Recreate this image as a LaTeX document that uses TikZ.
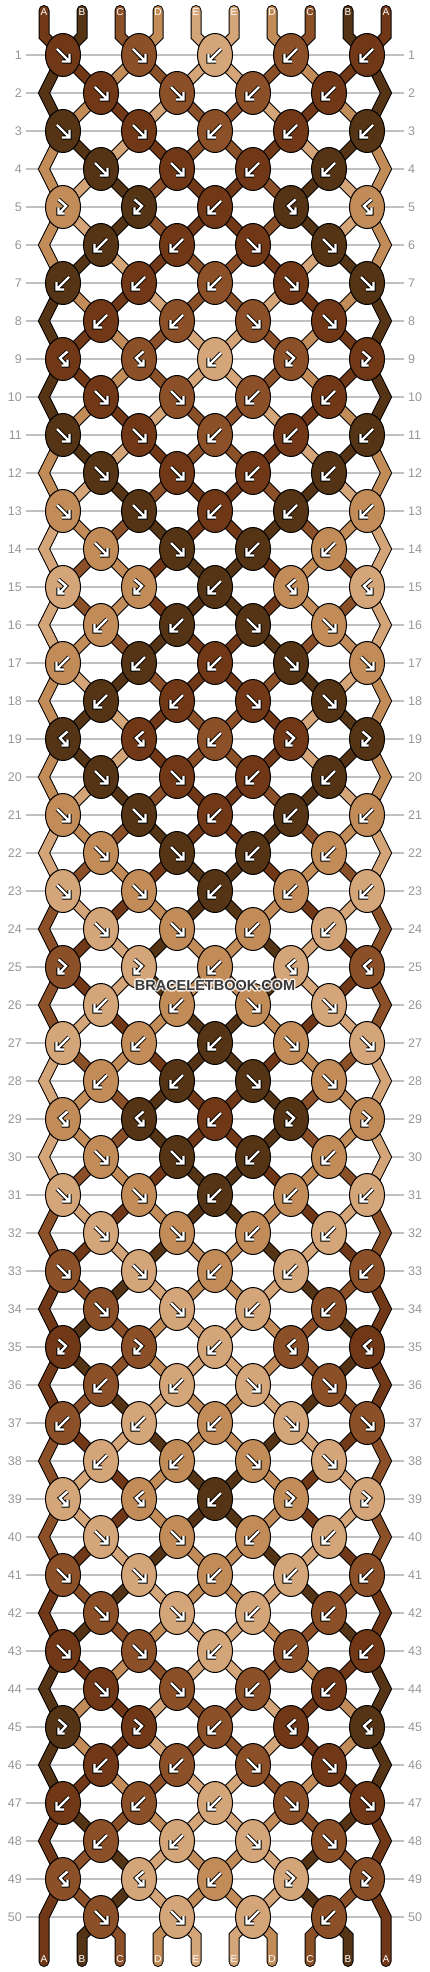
\documentclass[tikz,border=0pt]{standalone}
\usepackage{fontspec}
\setmainfont{Liberation Sans}
\usetikzlibrary{shapes.geometric}

\definecolor{strA}{RGB}{112,56,22}
\definecolor{strB}{RGB}{84,52,20}
\definecolor{strC}{RGB}{139,80,40}
\definecolor{strD}{RGB}{194,140,88}
\definecolor{strE}{RGB}{212,165,120}
\definecolor{rulegray}{RGB}{192,192,192}
\definecolor{numgray}{RGB}{150,150,150}
\definecolor{markgray}{RGB}{55,55,55}

% colour letter held by each string position
\newcommand{\setstr}[2]{\expandafter\xdef\csname st#1\endcsname{#2}}
\newcommand{\getstr}[1]{\csname st#1\endcsname}
\newcommand{\resetstr}{\foreach \p/\lab in {1/A,2/B,3/C,4/D,5/E,6/E,7/D,8/C,9/B,10/A}{\setstr{\p}{\lab}}}

% one string piece: colour letter, path (pass 1 outline, pass 2 fill)
\newcommand{\strand}[2]{%
  \edef\strandcmd{\ifnum\drawmode=1 \noexpand\draw[strandout] #2;\else\noexpand\draw[strandin, draw=str#1] #2;\fi}%
  \strandcmd}

% knot: row, index, left pos, right pos, type (1 f, 2 b, 3 fb, 4 bf), x, y, from left, from right
\newcommand{\knot}[9]{%
  \edef\lstr{\getstr{#3}}\edef\rstr{\getstr{#4}}%
  \ifodd#5 \let\kc\lstr\else\let\kc\rstr\fi
  \ifcase\drawmode\or
    \coordinate (c-#1-#2) at (#6,#7);
    \strand{}{#8 -- (c-#1-#2)}\strand{}{#9 -- (c-#1-#2)}%
  \or
    \strand{\lstr}{#8 -- (c-#1-#2)}\strand{\rstr}{#9 -- (c-#1-#2)}%
  \or
    \node[knot, fill=str\kc] (k-#1-#2) at (c-#1-#2) {};
    \ifcase#5\or\pic at (k-#1-#2.center) {fwd};\or\pic at (k-#1-#2.center) {bwd};%
    \or\pic at (k-#1-#2.center) {fwdbwd};\or\pic at (k-#1-#2.center) {bwdfwd};\fi
  \fi
  \ifnum#5<3 \setstr{#3}{\rstr}\setstr{#4}{\lstr}\fi}

% all 50 rows, once per pass
\newcommand{\runrows}{%
  \resetstr
  \foreach \rw in {1,...,50}{
    \pgfmathtruncatemacro\yy{55+38*(\rw-1)}
    \pgfmathtruncatemacro\rmod{mod(\rw,10)}
    \pgfmathtruncatemacro\rp{\rw-1}
    \pgfmathtruncatemacro\rpp{\rw-2}
    \ifnum\rmod=5 \def\ltype{3}\else\ifnum\rmod=9 \def\ltype{4}\else\ifnum\rmod>5 \def\ltype{2}\else\def\ltype{1}\fi\fi\fi
    \pgfmathtruncatemacro\mtype{\ltype+1-2*mod(\ltype+1,2)}
    \ifodd\rw
      \foreach \kn in {1,...,5}{
        \pgfmathtruncatemacro\xx{63+76*(\kn-1)}
        \pgfmathtruncatemacro\posl{2*\kn-1}
        \pgfmathtruncatemacro\posr{2*\kn}
        \pgfmathtruncatemacro\km{\kn-1}
        \ifnum\kn=3 \def\ty{2}\else\ifnum\kn<3 \let\ty\ltype\else\let\ty\mtype\fi\fi
        \ifnum\rw=1
          \knot{\rw}{\kn}{\posl}{\posr}{\ty}{\xx}{\yy}{(t-\posl) -- (u-\posl)}{(t-\posr) -- (u-\posr)}
        \else
          \ifnum\kn=1 \def\srcl{(c-\rpp-1) -- (e-\rp-1)}\else\def\srcl{(c-\rp-\km)}\fi
          \ifnum\kn=5 \def\srcr{(c-\rpp-5) -- (e-\rp-10)}\else\def\srcr{(c-\rp-\kn)}\fi
          \knot{\rw}{\kn}{\posl}{\posr}{\ty}{\xx}{\yy}{\srcl}{\srcr}
        \fi
      }
    \else
      \coordinate (e-\rw-1) at (44,\yy);
      \coordinate (e-\rw-10) at (386,\yy);
      \foreach \kn in {1,...,4}{
        \pgfmathtruncatemacro\xx{101+76*(\kn-1)}
        \pgfmathtruncatemacro\posl{2*\kn}
        \pgfmathtruncatemacro\posr{2*\kn+1}
        \pgfmathtruncatemacro\kq{\kn+1}
        \ifnum\kn<3 \let\ty\ltype\else\let\ty\mtype\fi
        \knot{\rw}{\kn}{\posl}{\posr}{\ty}{\xx}{\yy}{(c-\rp-\kn)}{(c-\rp-\kq)}
      }
    \fi
  }
  \ifnum\drawmode<3
    \strand{\getstr{1}}{(c-49-1) -- (e-50-1) -- (b-1)}
    \strand{\getstr{10}}{(c-49-5) -- (e-50-10) -- (b-10)}
    \foreach \p in {2,...,9}{
      \pgfmathtruncatemacro\kk{floor(\p/2)}
      \strand{\getstr{\p}}{(c-50-\kk) -- (v-\p) -- (b-\p)}
    }
  \fi}

\tikzset{
  pics/fwd/.style={code={\draw[arrw] (-6,-6) -- (5.5,5.5) (6.5,-1) -- (6.5,6.5) -- (-1,6.5);}},
  pics/bwd/.style={code={\draw[arrw] (6,-6) -- (-5.5,5.5) (-6.5,-1) -- (-6.5,6.5) -- (1,6.5);}},
  pics/fwdbwd/.style={code={\draw[arrw] (-4.5,-7.5) -- (3,-1) -- (-3,5.5) (-4.5,0.5) -- (-4.5,6.5) -- (1.5,6.5);}},
  pics/bwdfwd/.style={code={\draw[arrw] (4.5,-7.5) -- (-3,-1) -- (3,5.5) (4.5,0.5) -- (4.5,6.5) -- (-1.5,6.5);}}
}

\begin{document}
\begin{tikzpicture}[x=1pt, y=-1pt,
  knot/.style={ellipse, draw=black, line width=1, minimum width=35, minimum height=43, inner sep=0},
  strandout/.style={draw=black, line width=11, line cap=round, line join=miter},
  strandin/.style={line width=9, line cap=round, line join=miter},
  arrw/.style={draw=white, line width=2.4, line join=miter, preaction={draw=black, line width=4.2}},
  rownum/.style={font=\fontsize{12.5}{14}\selectfont, text=numgray, inner sep=4},
  strlabel/.style={font=\fontsize{10}{11}\selectfont, text=white, inner sep=0},
  rule/.style={draw=rulegray, line width=1.2},
  watermark/.style={font=\fontsize{14.5}{16}\selectfont\bfseries, text=markgray, inner sep=1}]
\useasboundingbox (0,0) rectangle (430,1972);

% row numbers and rules
\foreach \rw in {1,...,50}{
  \pgfmathtruncatemacro\yy{55+38*(\rw-1)}
  \node[rownum, anchor=east] (nl-\rw) at (26,\yy) {\rw};
  \node[rownum, anchor=west] (nr-\rw) at (404,\yy) {\rw};
  \draw[rule] (nl-\rw.east) -- (nr-\rw.west);
}

% string ends
\foreach \p in {1,...,10}{
  \pgfmathtruncatemacro\xx{44+38*(\p-1)}
  \coordinate (t-\p) at (\xx,10.5);
  \coordinate (u-\p) at (\xx,36);
  \coordinate (v-\p) at (\xx,1936);
  \coordinate (b-\p) at (\xx,1961.5);
}

% strands (outline, then fill), then knots
\def\drawmode{1}\runrows
\def\drawmode{2}\runrows
\def\drawmode{3}\runrows

\foreach \p/\lab in {1/A,2/B,3/C,4/D,5/E,6/E,7/D,8/C,9/B,10/A}{
  \node[strlabel] (lt-\p) at (t-\p) [yshift=-2pt] {\lab};
  \node[strlabel] (lb-\p) at (b-\p) [yshift=2pt] {\lab};
}

% watermark with a light glow
\coordinate (wmc) at (215,985.5);
\foreach \a in {0,45,...,315}
  \node[watermark, text=white, text opacity=0.55] at ([shift={(\a:1.6)}]wmc) {BRACELETBOOK.COM};
\node[watermark] (wm) at (wmc) {BRACELETBOOK.COM};
\end{tikzpicture}
\end{document}
